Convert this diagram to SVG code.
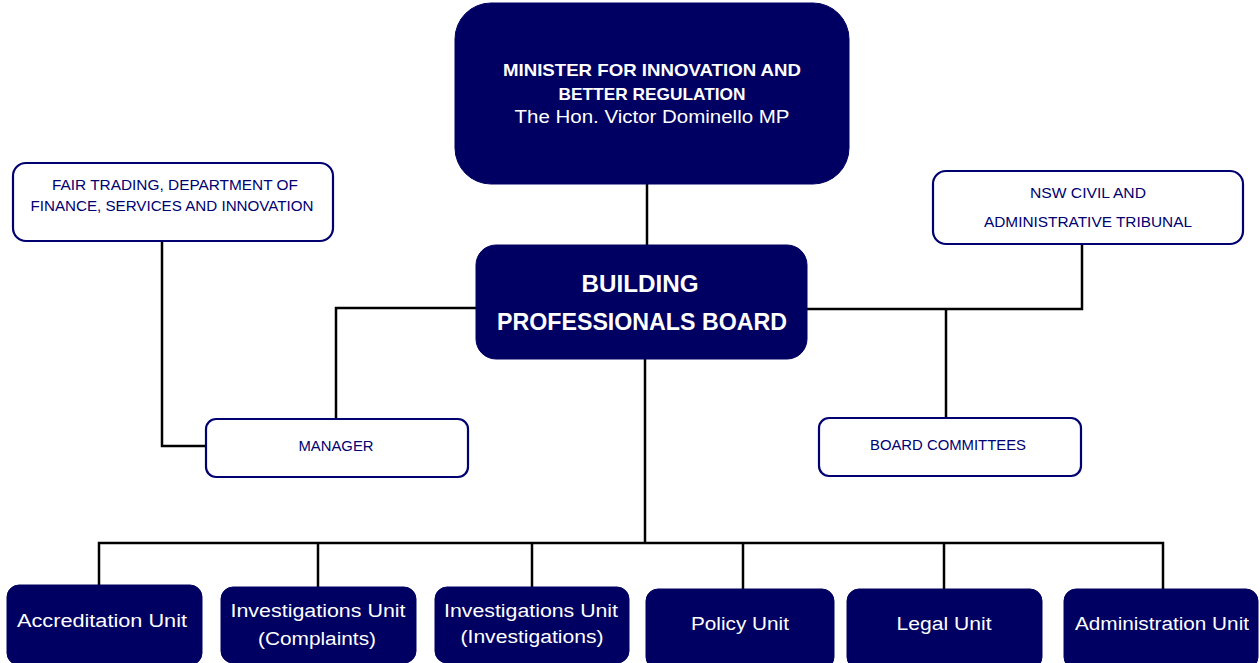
<svg xmlns="http://www.w3.org/2000/svg" width="1260" height="663" viewBox="0 0 1260 663">
<style>
.dark{fill:#000062;stroke:#000062;stroke-width:1}
.light{fill:#ffffff;stroke:#000070;stroke-width:2.2}
.wt{fill:#ffffff;font-family:"Liberation Sans",Arial,sans-serif;text-anchor:middle}
.nt{fill:#000070;font-family:"Liberation Sans",Arial,sans-serif;text-anchor:middle;font-size:14px}
.b{font-weight:bold}
.conn{fill:none;stroke:#000000;stroke-width:2.5}
</style>
<rect width="1260" height="663" fill="#ffffff"/>
<g id="connectors">
<path class="conn" d="M647,184 V245"/>
<path class="conn" d="M476,308 H336 V419"/>
<path class="conn" d="M807,309 H1082 V244"/>
<path class="conn" d="M946,309 V418"/>
<path class="conn" d="M162,241 V446 H206"/>
<path class="conn" d="M645,359 V543"/>
<path class="conn" d="M99,585 V543 H1163 V589"/>
<path class="conn" d="M318,543 V587"/>
<path class="conn" d="M532,543 V587"/>
<path class="conn" d="M743,543 V589"/>
<path class="conn" d="M944,543 V589"/>
</g>
<g id="minister">
<rect class="dark" x="455" y="3" width="394" height="181" rx="36"/>
<text class="wt b" x="652" y="76" font-size="17" textLength="298" lengthAdjust="spacingAndGlyphs">MINISTER FOR INNOVATION AND</text>
<text class="wt b" x="652" y="100" font-size="17" textLength="187" lengthAdjust="spacingAndGlyphs">BETTER REGULATION</text>
<text class="wt" x="652" y="123" font-size="18" textLength="275" lengthAdjust="spacingAndGlyphs">The Hon. Victor Dominello MP</text>
</g>
<g id="bpb">
<rect class="dark" x="476" y="245" width="331" height="114" rx="20"/>
<text class="wt b" x="640" y="292" font-size="23" textLength="117" lengthAdjust="spacingAndGlyphs">BUILDING</text>
<text class="wt b" x="642" y="330" font-size="23" textLength="290" lengthAdjust="spacingAndGlyphs">PROFESSIONALS BOARD</text>
</g>
<g id="fairtrading">
<rect class="light" x="13" y="163" width="320" height="78" rx="13"/>
<text class="nt" x="175" y="190" textLength="246" lengthAdjust="spacingAndGlyphs">FAIR TRADING,  DEPARTMENT  OF</text>
<text class="nt" x="172" y="211" textLength="283" lengthAdjust="spacingAndGlyphs">FINANCE,  SERVICES  AND INNOVATION</text>
</g>
<g id="ncat">
<rect class="light" x="933" y="171" width="310" height="73" rx="13"/>
<text class="nt" x="1088" y="198" textLength="116" lengthAdjust="spacingAndGlyphs">NSW  CIVIL  AND</text>
<text class="nt" x="1088" y="227" textLength="208" lengthAdjust="spacingAndGlyphs">ADMINISTRATIVE   TRIBUNAL</text>
</g>
<g id="manager">
<rect class="light" x="206" y="419" width="262" height="58" rx="10"/>
<text class="nt" x="336" y="451" textLength="75" lengthAdjust="spacingAndGlyphs">MANAGER</text>
</g>
<g id="committees">
<rect class="light" x="819" y="418" width="262" height="58" rx="10"/>
<text class="nt" x="948" y="450" textLength="156" lengthAdjust="spacingAndGlyphs">BOARD  COMMITTEES</text>
</g>
<g id="accreditation">
<rect class="dark" x="7" y="585" width="195" height="80" rx="12"/>
<text class="wt" x="102" y="627" font-size="18" textLength="170" lengthAdjust="spacingAndGlyphs">Accreditation Unit</text>
</g>
<g id="inv-complaints">
<rect class="dark" x="221" y="587" width="195" height="76" rx="12"/>
<text class="wt" x="318" y="617" font-size="18" textLength="175" lengthAdjust="spacingAndGlyphs">Investigations Unit</text>
<text class="wt" x="317" y="645" font-size="18" textLength="118" lengthAdjust="spacingAndGlyphs">(Complaints)</text>
</g>
<g id="inv-investigations">
<rect class="dark" x="435" y="587" width="194" height="76" rx="12"/>
<text class="wt" x="531" y="617" font-size="18" textLength="174" lengthAdjust="spacingAndGlyphs">Investigations Unit</text>
<text class="wt" x="532" y="643" font-size="18" textLength="143" lengthAdjust="spacingAndGlyphs">(Investigations)</text>
</g>
<g id="policy">
<rect class="dark" x="646" y="589" width="188" height="80" rx="12"/>
<text class="wt" x="740" y="630" font-size="18" textLength="98" lengthAdjust="spacingAndGlyphs">Policy Unit</text>
</g>
<g id="legal">
<rect class="dark" x="847" y="589" width="195" height="80" rx="12"/>
<text class="wt" x="944" y="630" font-size="18" textLength="95" lengthAdjust="spacingAndGlyphs">Legal  Unit</text>
</g>
<g id="administration">
<rect class="dark" x="1064" y="589" width="194" height="80" rx="12"/>
<text class="wt" x="1162" y="630" font-size="18" textLength="174" lengthAdjust="spacingAndGlyphs">Administration Unit</text>
</g>
</svg>
